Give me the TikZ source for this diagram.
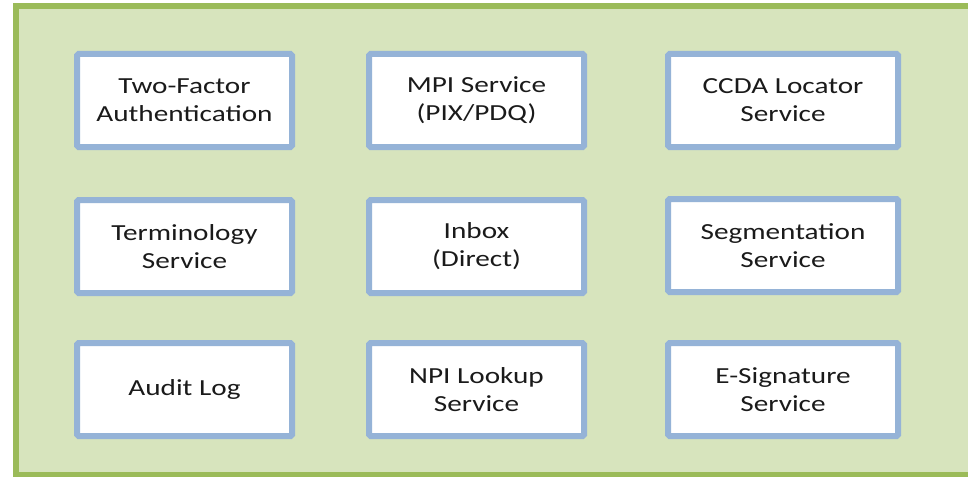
\documentclass[tikz,border=0pt]{standalone}
\usepackage{fontspec}
\setmainfont{Carlito}[FakeStretch=1.27]
\definecolor{outerfill}{HTML}{D7E4BD}
\definecolor{outerline}{HTML}{9BBB59}
\definecolor{boxline}{HTML}{95B3D7}
\definecolor{txt}{HTML}{1A1A1A}
\tikzset{
  svcbox/.style={draw=boxline, line width=6pt, fill=white, rounded corners=1.5pt,
    minimum height=93pt, align=center, text=txt,
    font=\fontsize{23}{28}\selectfont, inner sep=0pt},
  narrow/.style={minimum width=215pt},
  wide/.style={minimum width=230pt}
}
\begin{document}
\begin{tikzpicture}[x=1pt,y=-1pt]
\useasboundingbox (0,0) rectangle (968,476);
\draw[draw=outerline, fill=outerfill, line width=6pt] (16,6) rectangle (990,475);
\node[svcbox,narrow] (tfa) at (184.5,100.5) {Two-Factor\\Authentication};
\node[svcbox,narrow] (mpi) at (476.5,100.5) {MPI Service\\(PIX/PDQ)};
\node[svcbox,wide] (ccda) at (783,100.5) {CCDA Locator\\Service};
\node[svcbox,narrow] (term) at (184.5,246.5) {Terminology\\Service};
\node[svcbox,narrow] (inbox) at (476.5,246.5) {Inbox\\(Direct)};
\node[svcbox,wide] (seg) at (783,245.5) {Segmentation\\Service};
\node[svcbox,narrow] (audit) at (184.5,389.5) {Audit Log};
\node[svcbox,narrow] (npi) at (476.5,389.5) {NPI Lookup\\Service};
\node[svcbox,wide] (esig) at (783,389.5) {E-Signature\\Service};
\end{tikzpicture}
\end{document}
